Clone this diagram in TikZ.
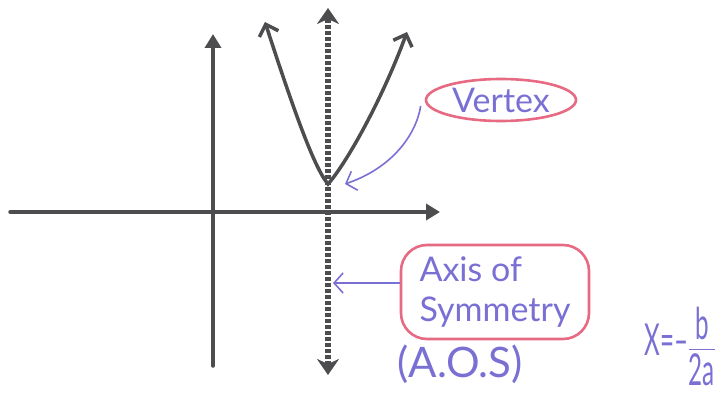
\documentclass[tikz,border=0pt]{standalone}
\usepackage{amsmath}
\usepackage{fontspec}
\setmainfont{Lato}
\usetikzlibrary{arrows.meta}
\usetikzlibrary{shapes.geometric}
\definecolor{axisgray}{HTML}{4D4D50}
\definecolor{penpurple}{HTML}{7A70D4}
\definecolor{penpink}{HTML}{E56A82}
\begin{document}
\begin{tikzpicture}[
    x=1pt,y=-1pt,
    axis/.style={draw=axisgray,line width=3.5pt,line cap=round,-{Triangle[length=14pt,width=16pt]}},
    sym/.style={draw=axisgray,line width=6pt,dash pattern=on 4pt off 2pt,{Stealth[length=16pt,width=22pt,inset=5pt]}-{Stealth[length=16pt,width=22pt,inset=5pt]}},
    curve/.style={draw=axisgray,line width=3.5pt,{Straight Barb[length=10pt,width=20pt]}-{Straight Barb[length=10pt,width=20pt]}},
    pointer/.style={draw=penpurple,line width=1.6pt,-{Straight Barb[length=9pt,width=20pt]}},
    pen/.style={text=penpurple,inner sep=0pt},
    oval/.style={ellipse,draw=penpink,line width=2.6pt,text=penpurple,minimum width=150,minimum height=42,inner sep=0pt},
    aosbox/.style={rectangle,rounded corners=26pt,draw=penpink,line width=2.6pt,text=penpurple,minimum width=188,minimum height=94,align=left,font=\fontsize{34}{36}\selectfont}
]
\useasboundingbox (0,0) rectangle (723,396);

\coordinate (x_start) at (10,212);
\coordinate (x_end) at (440,212);
\coordinate (y_start) at (213,366);
\coordinate (y_end) at (213,34);
\coordinate (aos_top) at (328,8);
\coordinate (aos_bottom) at (328,375);
\coordinate (vertex) at (328,184);
\coordinate (arm_left) at (265,22);
\coordinate (arm_right) at (407,32);
\coordinate (vertex_tip) at (345,184);
\coordinate (aos_tip) at (333,283);

\draw[axis] (x_start) -- (x_end);
\draw[axis] (y_start) -- (y_end);
\draw[sym] (aos_bottom) -- (aos_top);
\draw[curve] (arm_left) .. controls (292,105) and (314,168) .. (vertex)
    .. controls (346,164) and (382,100) .. (arm_right);

\node[oval] (vertex_label) at (501,100) {\fontsize{34}{36}\selectfont Vertex};
\node[aosbox] (aos_label) at (495,292) {Axis of\\[4pt]Symmetry};
\node[pen] (aos_short) at (460,364) {\fontsize{42}{44}\selectfont (A.O.S)};
\node[pen] (formula) at (680,346) {\scalebox{0.55}[1]{\fontsize{44}{46}\selectfont X=--$\dfrac{\text{b}}{\text{2a}}$}};

\draw[pointer] ([xshift=-4pt,yshift=-6pt]vertex_label.west) .. controls (416,135) and (392,168) .. (vertex_tip);
\draw[pointer] ([yshift=9pt]aos_label.west) -- (aos_tip);
\end{tikzpicture}
\end{document}
